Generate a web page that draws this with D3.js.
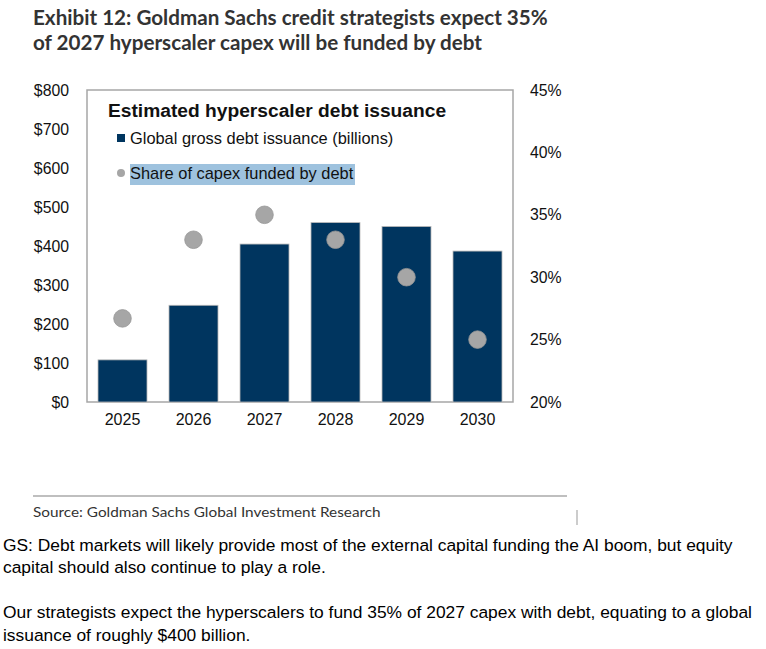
<!DOCTYPE html>
<html>
<head>
<meta charset="utf-8">
<script src="https://cdn.jsdelivr.net/npm/d3@7"></script>
<style>
  body { margin: 0; background: #fff; }
  svg { display: block; }
</style>
</head>
<body>
<svg id="chart" width="766" height="649"></svg>
<script>
// values
const years = ["2025", "2026", "2027", "2028", "2029", "2030"];
const issuance = [108, 248, 405, 460, 450, 387]; // $ billions
const shareDebt = [26.7, 33.0, 35.0, 33.0, 30.0, 25.0]; // %
const leftTicks = [0, 100, 200, 300, 400, 500, 600, 700, 800];
const rightTicks = [20, 25, 30, 35, 40, 45];

const titleLines = [
  "Exhibit 12: Goldman Sachs credit strategists expect 35%",
  "of 2027 hyperscaler capex will be funded by debt",
];
const bodyLines = [
  "GS: Debt markets will likely provide most of the external capital funding the AI boom, but equity",
  "capital should also continue to play a role.",
  "",
  "Our strategists expect the hyperscalers to fund 35% of 2027 capex with debt, equating to a global",
  "issuance of roughly $400 billion.",
];

const svg = d3.select("#chart");
const margin = { top: 90, right: 253, bottom: 247, left: 87 };
const width = 766;
const height = 649;
const axisFont = "'Liberation Sans', Arial, sans-serif";
const gsFont = "Lato, 'Open Sans', sans-serif";

svg.append("rect").attr("width", width).attr("height", height).attr("fill", "#fff");

// title, squeezed to the reference width
const title = svg.append("g").attr("transform", "translate(33,0)");
title
  .selectAll("text")
  .data(titleLines)
  .join("text")
  .attr("y", (d, i) => 25 + i * 25)
  .attr("font-family", gsFont)
  .attr("font-weight", "bold")
  .attr("font-size", 20)
  .attr("fill", "#333")
  .text((d) => d);
const titleW = title.select("text").node().getComputedTextLength();
title.attr("transform", `translate(33,0) scale(${515 / titleW},1)`);

const x = d3
  .scaleBand()
  .domain(years)
  .range([margin.left, width - margin.right])
  .paddingInner(0.31)
  .paddingOuter(0.155);

const yLeft = d3
  .scaleLinear()
  .domain([0, 800])
  .range([height - margin.bottom, margin.top]);

const yRight = d3
  .scaleLinear()
  .domain([20, 45])
  .range([height - margin.bottom, margin.top]);

// plot frame
svg
  .append("rect")
  .attr("x", margin.left)
  .attr("y", margin.top)
  .attr("width", width - margin.left - margin.right)
  .attr("height", height - margin.top - margin.bottom)
  .attr("fill", "none")
  .attr("stroke", "#a6a6a6")
  .attr("stroke-width", 1.5);

const leftAxis = (g) =>
  g
    .attr("transform", `translate(${margin.left - 15},0)`)
    .call(d3.axisLeft(yLeft).tickValues(leftTicks).tickSize(0).tickFormat((d) => `$${d}`))
    .call((g) => g.select(".domain").remove())
    .call((g) =>
      g.selectAll(".tick text").attr("font-family", axisFont).attr("font-size", 15.8).attr("fill", "#111")
    );

const rightAxis = (g) =>
  g
    .attr("transform", `translate(${width - margin.right + 14},0)`)
    .call(d3.axisRight(yRight).tickValues(rightTicks).tickSize(0).tickFormat((d) => `${d}%`))
    .call((g) => g.select(".domain").remove())
    .call((g) =>
      g.selectAll(".tick text").attr("font-family", axisFont).attr("font-size", 15.8).attr("fill", "#111")
    );

const bottomAxis = (g) =>
  g
    .attr("transform", `translate(0,${height - margin.bottom + 9})`)
    .call(d3.axisBottom(x).tickSize(0))
    .call((g) => g.select(".domain").remove())
    .call((g) =>
      g.selectAll(".tick text").attr("font-family", axisFont).attr("font-size", 16).attr("fill", "#111")
    );

svg.append("g").call(leftAxis);
svg.append("g").call(rightAxis);
svg.append("g").call(bottomAxis);

// bars
svg
  .append("g")
  .selectAll("rect")
  .data(years)
  .join("rect")
  .attr("x", (d) => x(d))
  .attr("y", (d, i) => yLeft(issuance[i]))
  .attr("width", x.bandwidth())
  .attr("height", (d, i) => yLeft(0) - yLeft(issuance[i]))
  .attr("fill", "#00355f")
  .attr("stroke", "#b8b8b8")
  .attr("stroke-width", 0.8);

// share of capex dots
svg
  .append("g")
  .selectAll("circle")
  .data(years)
  .join("circle")
  .attr("cx", (d) => x(d) + x.bandwidth() / 2)
  .attr("cy", (d, i) => yRight(shareDebt[i]))
  .attr("r", 8.8)
  .attr("fill", "#a6a6a6")
  .attr("stroke", "#969696")
  .attr("stroke-width", 0.8);

// legend inside the plot
const legend = svg.append("g").attr("font-family", axisFont).attr("fill", "#111");
legend
  .append("text")
  .attr("x", 108)
  .attr("y", 117)
  .attr("font-size", 19.2)
  .attr("font-weight", "bold")
  .text("Estimated hyperscaler debt issuance");
legend.append("rect").attr("x", 117).attr("y", 134).attr("width", 8).attr("height", 8).attr("fill", "#00355f");
legend
  .append("text")
  .attr("x", 130)
  .attr("y", 144)
  .attr("font-size", 16.4)
  .text("Global gross debt issuance (billions)");
legend.append("rect").attr("x", 130).attr("y", 164).attr("width", 225).attr("height", 21).attr("fill", "#9ec2de");
legend.append("circle").attr("cx", 121).attr("cy", 173).attr("r", 4).attr("fill", "#a6a6a6");
legend
  .append("text")
  .attr("x", 130)
  .attr("y", 179)
  .attr("font-size", 16.4)
  .text("Share of capex funded by debt");

// source
svg.append("line").attr("x1", 33).attr("x2", 567).attr("y1", 496).attr("y2", 496).attr("stroke", "#aaa").attr("stroke-width", 1.5);
svg.append("line").attr("x1", 577).attr("x2", 577).attr("y1", 510).attr("y2", 525).attr("stroke", "#aaa").attr("stroke-width", 1.2);
const source = svg
  .append("text")
  .attr("font-family", gsFont)
  .attr("font-size", 14)
  .attr("fill", "#333")
  .text("Source: Goldman Sachs Global Investment Research");
const sourceW = source.node().getComputedTextLength();
source.attr("transform", `translate(33,517) scale(${348 / sourceW},1)`);

// body text below the exhibit
const body = svg.append("g");
body
  .selectAll("text")
  .data(bodyLines)
  .join("text")
  .attr("y", (d, i) => 551 + i * 22.5)
  .attr("font-family", axisFont)
  .attr("font-size", 17)
  .attr("fill", "#000")
  .text((d) => d);
const bodyW = body.select("text").node().getComputedTextLength();
body.attr("transform", `translate(3,0) scale(${730 / bodyW},1)`);
</script>
</body>
</html>
